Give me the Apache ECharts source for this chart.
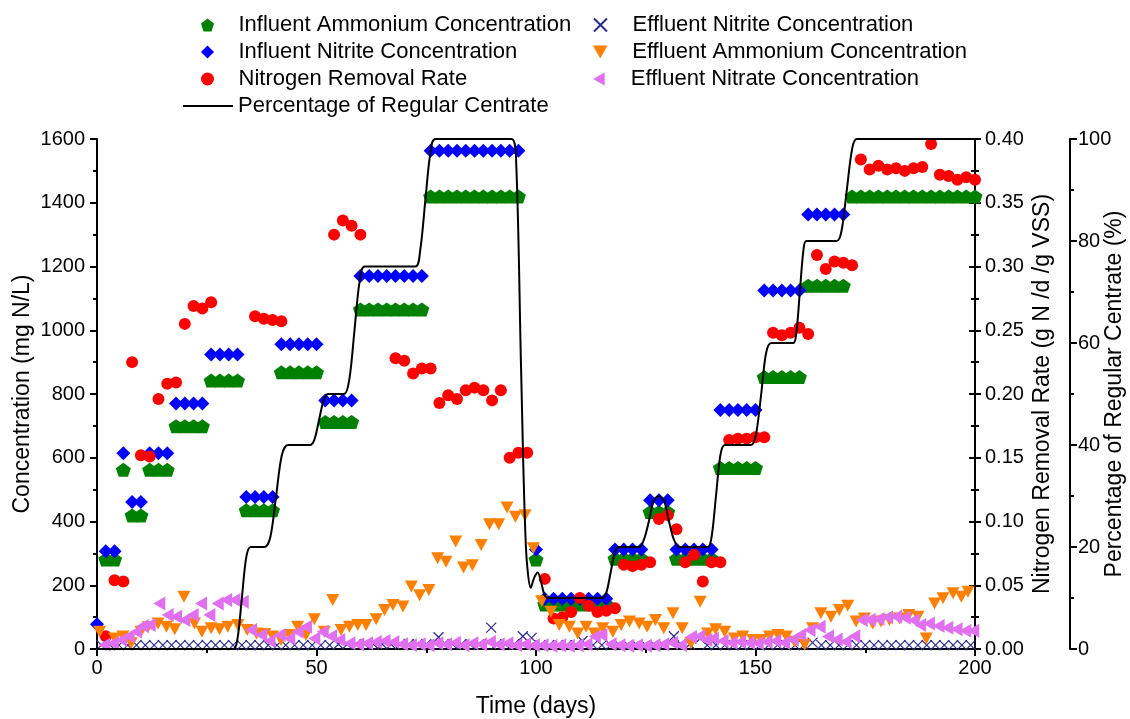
<!DOCTYPE html>
<html>
<head>
<meta charset="utf-8">
<script src="https://cdn.jsdelivr.net/npm/echarts@6/dist/echarts.min.js"></script>
<style>html,body{margin:0;padding:0;background:#fff;}#chart{width:1130px;height:719px;}</style>
</head>
<body>
<div id="chart"></div>
<script>
// ---------- data ----------
const iaDays = [2,4,6,8,10,12,14,16,18,20,22,24,26,28,30,32,34,36,38,40,42,44,46,48,50,52,54,56,58,60,62,64,66,68,70,72,74,76,78,80,82,84,86,88,90,92,94,96,100,102,104,106,108,110,112,114,116,118,120,122,124,126,128,130,132,134,136,138,140,142,144,146,148,150,152,154,156,158,160,162,164,166,168,170,172,174,176,178,180,182,184,186,188,190,192,194,196,198,200];
const iaVals = [281,281,562,419,419,562,562,562,699,699,699,699,842,842,842,842,435,435,435,435,868,868,868,868,868,712,712,712,712,1065,1065,1065,1065,1065,1065,1065,1065,1420,1420,1420,1420,1420,1420,1420,1420,1420,1420,1420,281,140,140,140,140,140,140,140,140,283,283,283,283,430,430,430,283,283,283,283,283,568,568,568,568,568,853,853,853,853,853,1140,1140,1140,1140,1140,1420,1420,1420,1420,1420,1420,1420,1420,1420,1420,1420,1420,1420,1420,1420];

const inDays = [0,2,4,6,8,10,12,14,16,18,20,22,24,26,28,30,32,34,36,38,40,42,44,46,48,50,52,54,56,58,60,62,64,66,68,70,72,74,76,78,80,82,84,86,88,90,92,94,96,100,102,104,106,108,110,112,114,116,118,120,122,124,126,128,130,132,134,136,138,140,142,144,146,148,150,152,154,156,158,160,162,164,166,168,170];
const inVals = [78,307,307,614,461,461,614,614,614,770,770,770,770,924,924,924,924,477,477,477,477,956,956,956,956,956,780,780,780,780,1170,1170,1170,1170,1170,1170,1170,1170,1563,1563,1563,1563,1563,1563,1563,1563,1563,1563,1563,312,158,158,158,158,158,158,158,158,312,312,312,312,467,467,467,312,312,312,312,312,750,750,750,750,750,1125,1125,1125,1125,1125,1363,1363,1363,1363,1363];

const nrrDays = [2,4,6,8,10,12,14,16,18,20,22,24,26,36,38,40,42,54,56,58,60,68,70,72,74,76,78,80,82,84,86,88,90,92,94,96,98,102,104,106,108,110,112,114,116,118,120,122,124,126,128,130,132,134,136,138,140,142,144,146,148,150,152,154,156,158,160,162,164,166,168,170,172,174,176,178,180,182,184,186,188,190,192,194,196,198,200];
const nrrVals = [0.010,0.054,0.053,0.225,0.152,0.151,0.196,0.208,0.209,0.255,0.269,0.267,0.272,0.261,0.259,0.258,0.257,0.325,0.336,0.332,0.325,0.228,0.226,0.216,0.220,0.220,0.193,0.199,0.196,0.203,0.205,0.203,0.195,0.203,0.150,0.154,0.154,0.055,0.024,0.025,0.029,0.040,0.034,0.029,0.030,0.032,0.066,0.065,0.066,0.068,0.102,0.105,0.094,0.068,0.074,0.053,0.068,0.068,0.164,0.165,0.165,0.166,0.166,0.248,0.246,0.248,0.252,0.247,0.309,0.298,0.304,0.303,0.301,0.384,0.376,0.379,0.376,0.377,0.375,0.377,0.378,0.396,0.372,0.371,0.368,0.370,0.368];

const pctDays = [0,31,32,33,34,35,38.2,39.5,40.8,42.1,43.5,48.5,49.5,50.6,51.7,52.7,56.3,57.5,58.6,59.8,61,72.5,73.6,74.8,75.9,77.1,94.4,95.5,96.6,97.7,98.8,99.6,100.4,101.2,102,103,115,116,117,118,118.9,123.5,124.6,125.7,126.8,128,129.2,130.3,131.4,132.6,139.1,140,141,142,143,149,150.1,151.3,152.4,153.6,158.6,159.3,160.1,160.9,161.6,168.5,169.6,170.8,172,173.1,200];
const pctVals = [0,0,2,10,18,20,20,22,30,38,40,40,41,45,49,50,50,53,62,72,75,75,78,88,97,100,100,95,55,20,12,14,15,13,10.5,10,10,11,15,19,20,20,21.5,25,29,30,29,25,21.5,20,20,22,30,38,40,40,42,50,58,60,60,62,70,78,80,80,82,90,98,100,100];

const neDays = [1,3,5,7,9,11,13,15,17,19,21,23,25,27,29,31,33,35,37,39,41,43,45,47,49,51,53,55,57,59,61,63,65,67,69,71,73,75,77.8,79,81,83,85,87,89.8,91,93,95,97,99,101,103,105,107,109,110.6,113,115,117,119,121,123,125,127,129,131.4,133,135,137.4,139,141,143,145,147,149,151,153,155,157,159,161,163,165,167,169,171,173,175,177,179,181,183,185,187,189,191,193,195,197,199];
const neVals = [12,12,12,12,12,12,12,12,12,12,12,12,12,12,12,12,12,12,12,12,12,12,12,12,12,12,12,15,15,15,15,15,15,15,15,15,15,15,37,15,15,15,15,15,67,15,15,15,40,35,12,12,12,12,12,25,12,12,12,12,12,12,12,12,12,40,15,15,33,12,12,12,12,12,12,12,12,12,12,12,12,20,12,12,12,12,12,12,12,12,12,12,12,12,12,12,12,12,12,12];

const eaDays = [0.6,4,5.9,7.8,10,11.6,13.9,15.8,17.7,19.8,22.2,23.9,26,27.9,29.8,32.1,34.2,36.3,38.2,40,41.9,43.8,45.7,47.6,49.5,51.8,53.7,55.6,57.5,59.4,61.3,63.6,65.5,67.4,69.7,71.6,73.5,75.6,77.6,79.5,81.7,83.5,85.5,87.5,89.4,91.5,93.4,95.3,97.5,99.4,101.3,103.4,105.3,107.6,109.5,111.4,113.3,115.2,117.5,119.4,121.3,123.5,125.3,127.2,129.1,131.2,133.3,135.3,137.4,139.1,140.9,143,145.2,147.1,149.4,151.3,153.2,155.1,157,158.9,161.2,163,164.9,167.2,169.1,171,172.9,174.8,176.7,178.6,180.5,182.8,184.9,187,188.9,190.8,192.7,195,196.9,198.4];
const eaVals = [54,33,39,18,54,68,80,70,62,164,80,54,65,62,70,75,60,49,47,39,28,44,70,44,93,54,154,60,70,75,75,93,122,138,133,196,169,185,285,274,337,256,263,326,391,391,444,415,420,316,150,117,75,70,49,70,49,65,54,75,86,80,70,91,65,112,65,18,148,49,62,54,33,39,28,28,39,44,39,23,13,65,112,101,122,136,86,96,80,86,91,96,107,101,33,143,159,175,164,180];

const enaDays = [1.7,3.6,5.5,7.2,8.9,10.4,12,14.2,16.1,18,19.9,21.8,23.7,25.6,27.5,29.4,31.3,33.2,35.1,37.4,39.3,41.6,43.8,45.7,47.6,49.5,51.4,53.3,55.2,57.5,59.5,61.5,63.5,65.5,67.5,69.5,71.5,73.5,75.5,77.5,79.5,81.5,83.5,85.5,87.5,89.5,91.5,93.5,95.5,97.5,99.5,101.5,103.5,105.5,107.5,109.5,111.5,113.4,114.9,117,119,121,123,125,127,129,131,133,135.3,137.2,138.8,140.3,142.5,144.5,146.5,148.5,150.5,152.5,154.5,156.5,158.5,160.2,162.3,164.6,166.5,168.5,170.5,172.5,174.2,176,178,180,182,184,186,187.5,189.5,191.7,193.7,195.8,197.8,199.6];
const enaVals = [13,18,28,40,54,72,75,143,107,101,91,107,143,107,143,154,154,148,60,44,25,44,33,54,70,33,54,40,28,18,15,18,22,25,22,15,12,15,12,18,15,20,12,18,15,22,15,18,12,15,12,12,10,12,10,12,15,39,44,15,12,10,12,10,12,15,20,12,38,40,28,33,25,20,22,20,18,22,25,20,30,44,60,70,39,30,23,40,91,92,94,100,101,98,90,75,80,72,67,62,57,57];

const xTicks = {min: 0, max: 200, step: 50};
const concTicks = {min: 0, max: 1600, step: 200};
const nrrTicks = {min: 0, max: 0.4, step: 0.05};
const pctTicks = {min: 0, max: 100, step: 20};

const names = {
  ia: 'Influent Ammonium Concentration',
  inn: 'Influent Nitrite Concentration',
  nrr: 'Nitrogen Removal Rate',
  pct: 'Percentage of Regular Centrate',
  ne: 'Effluent Nitrite Concentration',
  ea: 'Effluent Ammonium Concentration',
  ena: 'Effluent Nitrate Concentration'
};

// ---------- chart ----------
const pair = (d, v) => d.map((x, i) => [x, v[i]]);
const FONT = '"Liberation Sans", Arial, sans-serif';
const BLACK = '#000';

const PENTAGON = 'path://M5,0L10,3.8L8.1,10L1.9,10L0,3.8Z';
const DIAMOND = 'path://M5,0L10,5L5,10L0,5Z';
const CIRCLE = 'path://M10,5A5,5,0,1,1,0,5A5,5,0,1,1,10,5Z';
const TRI_DOWN = 'path://M0,0L10,0L5,9Z';
const TRI_LEFT = 'path://M0,5L9,0L9,10Z';
const XMARK = 'path://M0,0L10,10M10,0L0,10';

const TICK_FONT = 20;
const NAME_FONT = 23;

function axisCommon(extra) {
  return Object.assign({
    splitLine: {show: false},
    nameMoveOverlap: false,
    axisLine: {show: true, lineStyle: {color: BLACK, width: 2}},
    axisTick: {show: true, length: 7, lineStyle: {color: BLACK, width: 2}},
    minorTick: {show: true, splitNumber: 2, length: 4, lineStyle: {color: BLACK, width: 2}},
    axisLabel: {color: BLACK, fontSize: TICK_FONT, fontFamily: FONT},
    nameTextStyle: {color: BLACK, fontSize: NAME_FONT, fontFamily: FONT}
  }, extra);
}

function legendRow(name, left, top, itemWidth) {
  return {
    data: [name], left: left, top: top, orient: 'horizontal',
    itemWidth: itemWidth, itemHeight: 13, padding: 0, selectedMode: false,
    textStyle: {fontSize: 22, fontFamily: FONT, color: BLACK}
  };
}

const chart = echarts.init(document.getElementById('chart'), null, {renderer: 'canvas'});
chart.setOption({
  backgroundColor: '#fff',
  animation: false,
  textStyle: {fontFamily: FONT},
  grid: {left: 97, right: 155, top: 139, bottom: 70, containLabel: false, outerBoundsMode: 'none'},
  legend: [
    legendRow(names.ia, 201, 14, 52),
    legendRow(names.inn, 201, 41, 52),
    legendRow(names.nrr, 201, 68, 52),
    legendRow(names.pct, 182, 95, 50),
    legendRow(names.ne, 593, 14, 54),
    legendRow(names.ea, 593, 41, 54),
    legendRow(names.ena, 593, 68, 54)
  ],
  xAxis: axisCommon({
    type: 'value', min: xTicks.min, max: xTicks.max, interval: xTicks.step,
    name: 'Time (days)', nameLocation: 'middle', nameGap: 46,
    axisLabel: {color: BLACK, fontSize: TICK_FONT, fontFamily: FONT, margin: 9}
  }),
  yAxis: [
    axisCommon({
      type: 'value', position: 'left', min: concTicks.min, max: concTicks.max, interval: concTicks.step,
      name: 'Concentration (mg N/L)', nameLocation: 'middle', nameGap: 63, nameRotate: 90,
      axisLabel: {color: BLACK, fontSize: TICK_FONT, fontFamily: FONT, margin: 12, formatter: v => String(v)}
    }),
    axisCommon({
      type: 'value', position: 'right', offset: 0, min: nrrTicks.min, max: nrrTicks.max, interval: nrrTicks.step,
      name: 'Nitrogen Removal Rate (g N /d /g VSS)', nameLocation: 'middle', nameGap: 56, nameRotate: 90,
      axisTick: {show: true, length: 6, lineStyle: {color: BLACK, width: 2}},
      minorTick: {show: true, splitNumber: 2, length: 4, lineStyle: {color: BLACK, width: 2}},
      axisLabel: {color: BLACK, fontSize: TICK_FONT, fontFamily: FONT, margin: 10, formatter: v => v.toFixed(2)}
    }),
    axisCommon({
      type: 'value', position: 'right', offset: 95, min: pctTicks.min, max: pctTicks.max, interval: pctTicks.step,
      name: 'Percentage of Regular Centrate (%)', nameLocation: 'middle', nameGap: 33, nameRotate: 90,
      axisLabel: {color: BLACK, fontSize: TICK_FONT, fontFamily: FONT, margin: 8}
    }),
    axisCommon({
      type: 'value', position: 'right', offset: 0, min: nrrTicks.min, max: nrrTicks.max, interval: nrrTicks.step,
      axisLine: {show: false},
      axisTick: {show: true, inside: true, length: 6, lineStyle: {color: BLACK, width: 2}},
      minorTick: {show: true, splitNumber: 2, length: 4, lineStyle: {color: BLACK, width: 2}},
      axisLabel: {show: false}
    })
  ],
  series: [
    {name: names.ia, type: 'scatter', yAxisIndex: 0, symbol: PENTAGON, symbolSize: [15, 14],
     itemStyle: {color: '#008000', opacity: 1}, data: pair(iaDays, iaVals)},
    {name: names.inn, type: 'scatter', yAxisIndex: 0, symbol: DIAMOND, symbolSize: [14, 14],
     itemStyle: {color: '#0000ff', opacity: 1}, data: pair(inDays, inVals)},
    {name: names.nrr, type: 'scatter', yAxisIndex: 1, symbol: CIRCLE, symbolSize: 12,
     itemStyle: {color: '#ff0000', opacity: 1}, data: pair(nrrDays, nrrVals)},
    {name: names.ne, type: 'scatter', yAxisIndex: 0, symbol: XMARK, symbolSize: 10,
     itemStyle: {color: 'rgba(0,0,0,0)', borderColor: '#2b2b8c', borderWidth: 1.2, opacity: 1}, data: pair(neDays, neVals)},
    {name: names.ea, type: 'scatter', yAxisIndex: 0, symbol: TRI_DOWN, symbolSize: [13, 12],
     itemStyle: {color: '#ff8000', opacity: 1}, data: pair(eaDays, eaVals)},
    {name: names.ena, type: 'scatter', yAxisIndex: 0, symbol: TRI_LEFT, symbolSize: [12, 14],
     itemStyle: {color: '#e070f0', opacity: 1}, data: pair(enaDays, enaVals)},
    {name: names.pct, type: 'line', yAxisIndex: 2, symbol: 'none', smooth: 0.3,
     lineStyle: {color: BLACK, width: 2}, itemStyle: {color: 'rgba(0,0,0,0)'}, data: pair(pctDays, pctVals), z: 5}
  ]
});
</script>
</body>
</html>
